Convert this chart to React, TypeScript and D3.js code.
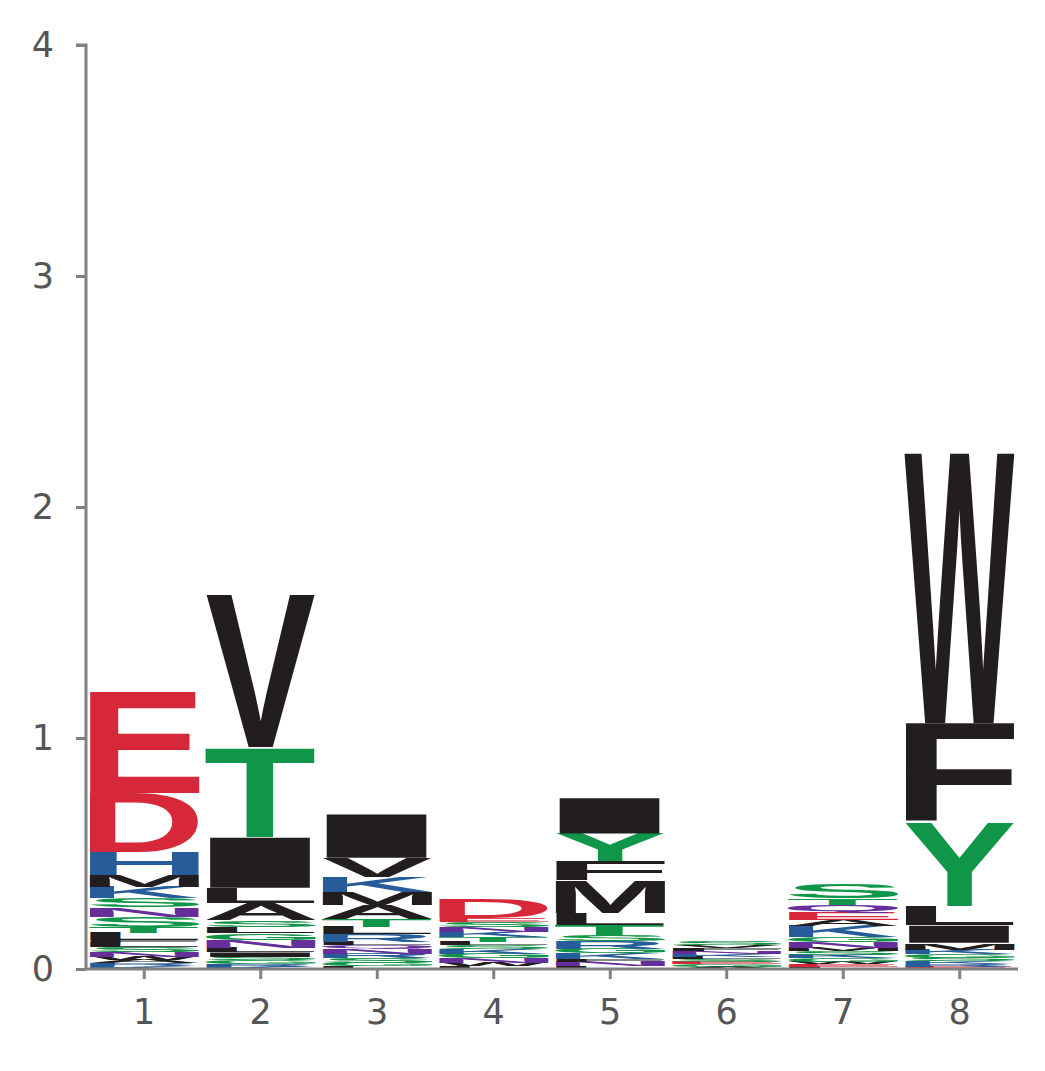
import React, { useEffect, useRef } from "react";
import * as d3 from "d3";

// stacks listed bottom -> top as [letter, height in bits]
const positions = [1, 2, 3, 4, 5, 6, 7, 8];
const stacks: [string, number][][] = [
  [["K", 0.012], ["R", 0.012], ["A", 0.015], ["W", 0.015], ["N", 0.02], ["S", 0.02], ["L", 0.02], ["F", 0.01], ["L", 0.03], ["T", 0.028], ["S", 0.045], ["N", 0.04], ["S", 0.04], ["K", 0.048], ["M", 0.052], ["H", 0.1], ["D", 0.255], ["E", 0.44]],
  [["K", 0.01], ["R", 0.012], ["G", 0.015], ["S", 0.015], ["I", 0.02], ["L", 0.02], ["N", 0.035], ["G", 0.03], ["L", 0.025], ["S", 0.03], ["A", 0.075], ["L", 0.065], ["I", 0.22], ["T", 0.39], ["V", 0.66]],
  [["L", 0.012], ["G", 0.015], ["S", 0.02], ["R", 0.02], ["N", 0.02], ["Q", 0.015], ["L", 0.015], ["R", 0.035], ["L", 0.03], ["T", 0.035], ["A", 0.06], ["M", 0.055], ["K", 0.065], ["V", 0.085], ["I", 0.19]],
  [["L", 0.012], ["W", 0.015], ["N", 0.02], ["G", 0.02], ["K", 0.02], ["S", 0.015], ["L", 0.015], ["T", 0.02], ["K", 0.025], ["N", 0.02], ["S", 0.02], ["E", 0.018], ["D", 0.085]],
  [["L", 0.012], ["N", 0.02], ["F", 0.01], ["K", 0.025], ["G", 0.02], ["R", 0.035], ["S", 0.025], ["T", 0.045], ["L", 0.05], ["M", 0.14], ["F", 0.085], ["Y", 0.12], ["I", 0.155]],
  [["A", 0.01], ["G", 0.01], ["E", 0.01], ["S", 0.012], ["L", 0.012], ["K", 0.012], ["N", 0.012], ["F", 0.012], ["V", 0.012], ["S", 0.015]],
  [["L", 0.01], ["E", 0.012], ["W", 0.01], ["G", 0.015], ["K", 0.015], ["S", 0.015], ["M", 0.015], ["N", 0.025], ["G", 0.02], ["K", 0.05], ["A", 0.025], ["E", 0.03], ["Q", 0.033], ["T", 0.03], ["S", 0.06]],
  [["E", 0.01], ["R", 0.012], ["K", 0.012], ["S", 0.015], ["G", 0.015], ["K", 0.02], ["M", 0.03], ["I", 0.075], ["L", 0.085], ["Y", 0.36], ["F", 0.43], ["W", 1.17]],
];
const yTicks = [0, 1, 2, 3, 4];

const colorOf = (c: string) => {
  if ("GSTYC".includes(c)) return "#109648";
  if ("NQ".includes(c)) return "#662e9b";
  if ("KRH".includes(c)) return "#255c99";
  if ("DE".includes(c)) return "#d62839";
  return "#221e1f";
};

const FONT = "bold 100px 'Liberation Sans', Arial, sans-serif";

export default function App() {
  const ref = useRef<SVGSVGElement>(null);

  useEffect(() => {
    if (!ref.current) return;
    const svg = d3.select(ref.current);
    svg.selectAll("*").remove();
    const left = 86, right = 1018, top = 45, bottom = 969;

    const ctx = document.createElement("canvas").getContext("2d")!;
    ctx.font = FONT;

    const x = d3.scaleBand<number>().domain(positions).range([left, right]).paddingInner(0.05).paddingOuter(0.025);
    const y = d3.scaleLinear().domain([0, 4]).range([bottom, top]);

    const g = svg.append("g");
    stacks.forEach((stack, i) => {
      let base = 0;
      const x0 = x(positions[i])!;
      const w = x.bandwidth();
      stack.forEach(([ch, h]) => {
        const y1 = y(base + h), y0 = y(base);
        base += h;
        const m = ctx.measureText(ch);
        const gl = -m.actualBoundingBoxLeft, gr = m.actualBoundingBoxRight;
        const ga = m.actualBoundingBoxAscent, gd = m.actualBoundingBoxDescent;
        const sx = w / (gr - gl);
        const sy = (y0 - y1) / (ga + gd);
        g.append("text")
          .text(ch)
          .attr("font-family", "'Liberation Sans', Arial, sans-serif")
          .attr("font-weight", "bold")
          .attr("font-size", 100)
          .attr("fill", colorOf(ch))
          .attr("transform", `translate(${x0},${y1}) scale(${sx},${sy}) translate(${-gl},${ga})`);
      });
    });

    const axisColor = "#808080";
    const labelColor = "#555";
    const ya = svg.append("g").attr("transform", `translate(${left},0)`)
      .call(d3.axisLeft(y).tickValues(yTicks).tickFormat(d3.format("d")).tickSize(10).tickPadding(22));
    const xa = svg.append("g").attr("transform", `translate(0,${bottom})`)
      .call(d3.axisBottom(x).tickSize(10).tickPadding(20).tickSizeOuter(0));
    [ya, xa].forEach(a => {
      a.select(".domain").attr("stroke", axisColor).attr("stroke-width", 3);
      a.selectAll(".tick line").attr("stroke", axisColor).attr("stroke-width", 3);
      a.selectAll(".tick text").attr("fill", labelColor)
        .style("font-family", "DejaVu Sans, sans-serif").style("font-size", "35px");
    });
    ya.select(".domain").attr("d", `M-10,${top}H0V${bottom}`);
    xa.select(".domain").attr("d", `M${left},0H${right}`);
  }, []);

  return <svg ref={ref} width={1045} height={1071} style={{ display: "block", margin: -8 }} />;
}
